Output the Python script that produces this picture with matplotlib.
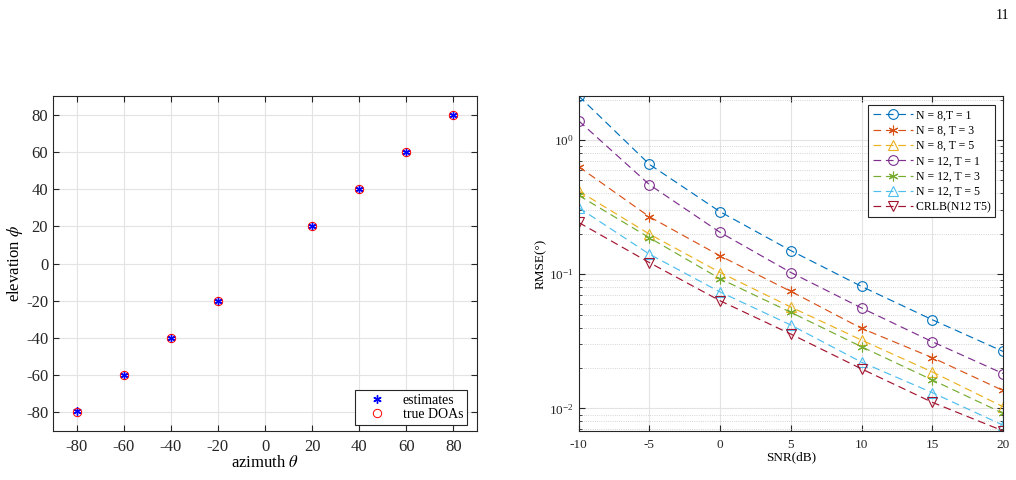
import numpy as np
import matplotlib
matplotlib.use('Agg')
import matplotlib.pyplot as plt
from matplotlib.ticker import LogLocator, NullFormatter

plt.rcParams['font.family'] = ['Liberation Serif', 'DejaVu Serif']
plt.rcParams['mathtext.fontset'] = 'stix'
plt.rcParams['axes.unicode_minus'] = False

#---------------data: left panel (DOA scatter)---------------
est_az = [-80, -60, -40, -20, 20, 40, 60, 80]
est_el = [-79.3, -60, -40, -20, 20, 40, 60, 80]
true_az = [-80, -60, -40, -20, 20, 40, 60, 80]
true_el = [-80, -60, -40, -20, 20, 40, 60, 80]

#---------------data: right panel (RMSE vs SNR)---------------
snr = [-10, -5, 0, 5, 10, 15, 20]
rmse_n8_t1 = [2.13, 0.659, 0.292, 0.150, 0.0811, 0.0458, 0.0266]
rmse_n8_t3 = [0.633, 0.268, 0.137, 0.0745, 0.0395, 0.0239, 0.0136]
rmse_n8_t5 = [0.417, 0.199, 0.103, 0.0569, 0.0323, 0.0187, 0.0103]
rmse_n12_t1 = [1.39, 0.465, 0.205, 0.103, 0.056, 0.0314, 0.0182]
rmse_n12_t3 = [0.387, 0.187, 0.0925, 0.052, 0.0288, 0.0163, 0.0092]
rmse_n12_t5 = [0.313, 0.141, 0.0737, 0.0418, 0.0221, 0.0131, 0.0075]
crlb_n12_t5 = [0.243, 0.122, 0.0634, 0.0358, 0.0197, 0.0111, 0.0068]

labels = ['N = 8,T = 1', 'N = 8, T = 3', 'N = 8, T = 5', 'N = 12, T = 1',
          'N = 12, T = 3', 'N = 12, T = 5', 'CRLB(N12 T5)']
series = [rmse_n8_t1, rmse_n8_t3, rmse_n8_t5, rmse_n12_t1, rmse_n12_t3, rmse_n12_t5, crlb_n12_t5]
colors = ['#0072BD', '#D95319', '#EDB120', '#7E2F8E', '#77AC30', '#4DBEEE', '#A2142F']
asterisk = (6, 2, 0)  # matlab-like '*' marker
markers = ['o', asterisk, '^', 'o', asterisk, '^', 'v']

fig = plt.figure(figsize=(10.16, 4.8), dpi=100)
fig.text(0.9935, 0.968, '11', ha='right', va='center', fontsize=10)

def matlab_box(ax):
    for s in ax.spines.values():
        s.set_linewidth(0.8)
        s.set_color('#262626')
    ax.tick_params(which='both', direction='in', top=True, right=True, colors='#262626')
    ax.set_axisbelow(True)

#---------------left panel---------------
ax1 = fig.add_axes([0.0522, 0.102, 0.4173, 0.698])
ax1.plot(est_az, est_el, linestyle='none', marker=asterisk, color='blue', mec='blue',
         markersize=6, markeredgewidth=1.0, label='estimates')
ax1.plot(true_az, true_el, linestyle='none', marker='o', mfc='none', mec='red', markersize=6, markeredgewidth=0.7, label='true DOAs')
ax1.set_xlim(-90, 90)
ax1.set_ylim(-90, 90)
ax1.set_xticks(np.arange(-80, 81, 20))
ax1.set_yticks(np.arange(-80, 81, 20))
ax1.grid(True, color='#e3e3e3', linewidth=0.8)
matlab_box(ax1)
ax1.tick_params(labelsize=12, length=4)
ax1.tick_params(axis='x', pad=6)
ax1.set_xlabel(r'azimuth $\theta$', fontsize=12, labelpad=0)
ax1.set_ylabel(r'elevation $\phi$', fontsize=12, labelpad=1)
leg1 = ax1.legend(loc='lower right', fontsize=10, handlelength=2.5, handletextpad=0.6,
                  borderpad=0.3, labelspacing=0.1, fancybox=False, edgecolor='#262626',
                  framealpha=1, bbox_to_anchor=(0.99, 0.0), borderaxespad=0.4)
leg1.get_frame().set_linewidth(0.8)

#---------------right panel---------------
ax2 = fig.add_axes([0.5696, 0.102, 0.4176, 0.698])
for y, lab, c, m in zip(series, labels, colors, markers):
    ms = 7
    ax2.semilogy(snr, y, linestyle=(0, (6.5, 4)), linewidth=0.85, color=c, marker=m,
                 markersize=ms, mfc='none', mec=c, markeredgewidth=0.8, label=lab)
ax2.set_xlim(-10, 20)
ax2.set_ylim(0.00678, 2.13)
ax2.set_xticks(snr)
ax2.yaxis.set_major_locator(LogLocator(base=10, numticks=10))
ax2.yaxis.set_minor_locator(LogLocator(base=10, subs=np.arange(2, 10), numticks=10))
ax2.yaxis.set_minor_formatter(NullFormatter())
ax2.grid(True, which='major', color='#e3e3e3', linewidth=0.8)
ax2.grid(True, which='minor', axis='y', color='#c8c8c8', linewidth=0.6, linestyle=':')
matlab_box(ax2)
ax2.tick_params(which='major', labelsize=9.5, length=4)
ax2.tick_params(which='minor', length=2)
ax2.tick_params(axis='x', pad=6)
ax2.set_xlabel('SNR(dB)', fontsize=9.5, labelpad=0)
ax2.set_ylabel('RMSE(°)', fontsize=9.5, labelpad=2)
leg2 = ax2.legend(loc='upper right', fontsize=8.5, handlelength=3.4, handletextpad=0.25,
                  borderpad=0.35, labelspacing=0.28, fancybox=False, edgecolor='#262626',
                  framealpha=1, bbox_to_anchor=(0.98, 0.972), borderaxespad=0.0)
leg2.get_frame().set_linewidth(0.8)

fig.savefig('out.png', dpi=100)
